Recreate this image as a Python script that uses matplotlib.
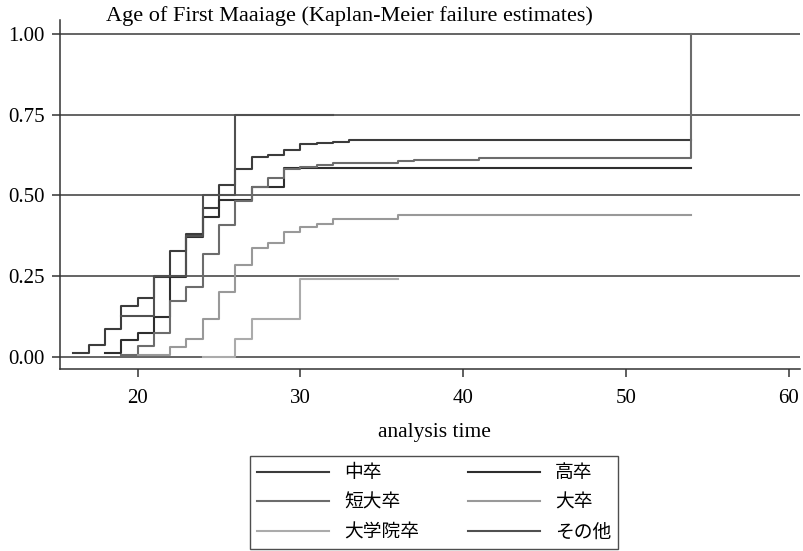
import matplotlib
matplotlib.use("Agg")
import matplotlib.pyplot as plt

# ---- data ----
labels = ["中卒", "高卒", "短大卒", "大卒", "大学院卒", "その他"]

t_chu = [16, 17, 18, 19, 20, 21, 22, 23, 24, 25, 26, 27, 28, 29, 30, 31, 32, 33, 54]
s_chu = [0.012, 0.036, 0.085, 0.158, 0.183, 0.248, 0.328, 0.380, 0.462, 0.532,
         0.582, 0.619, 0.625, 0.642, 0.658, 0.663, 0.667, 0.672, 0.672]

t_kou = [18, 19, 20, 21, 22, 23, 24, 25, 27, 29, 54]
s_kou = [0.010, 0.050, 0.074, 0.124, 0.248, 0.370, 0.434, 0.486, 0.527, 0.584, 0.584]

t_tan = [19, 20, 21, 22, 23, 24, 25, 26, 27, 28, 29, 30, 31, 32, 34, 36, 37, 41, 54]
s_tan = [0.005, 0.034, 0.074, 0.172, 0.217, 0.317, 0.408, 0.483, 0.527, 0.554,
         0.581, 0.587, 0.594, 0.600, 0.602, 0.607, 0.610, 0.617, 1.000]

t_dai = [20, 22, 23, 24, 25, 26, 27, 28, 29, 30, 31, 32, 36, 54]
s_dai = [0.005, 0.029, 0.054, 0.117, 0.200, 0.284, 0.336, 0.353, 0.387, 0.403,
         0.410, 0.428, 0.439, 0.439]

t_in = [24, 26, 27, 30, 36]
s_in = [0.000, 0.054, 0.116, 0.242, 0.242]

t_oth = [19, 21, 23, 24, 26, 32]
s_oth = [0.125, 0.250, 0.375, 0.500, 0.750, 0.750]

series_t = [t_chu, t_kou, t_tan, t_dai, t_in, t_oth]
series_s = [s_chu, s_kou, s_tan, s_dai, s_in, s_oth]
colors = ["#3c3c3c", "#2e2e2e", "#6c6c6c", "#999999", "#ababab", "#505050"]

yticks = [0.00, 0.25, 0.50, 0.75, 1.00]
xticks = [20, 30, 40, 50, 60]

SERIF = ["Liberation Serif", "DejaVu Serif"]
CJK = ["Noto Sans CJK JP", "DejaVu Sans"]

fig = plt.figure(figsize=(8.04, 5.51), dpi=100)
ax = fig.add_axes([60 / 804, 1 - 369.3 / 551, 740 / 804, 349.3 / 551])
ax.set_xlim(15.23, 60.7)
ax.set_ylim(-0.0394, 1.044)

for yv in yticks:
    ax.axhline(yv, color="#3a3a3a", lw=1.1, zorder=1)

handles = []
for t, s, c, lab in zip(series_t, series_s, colors, labels):
    h, = ax.step(t, s, where="post", color=c, lw=1.5, label=lab, zorder=3)
    handles.append(h)

for sp in ["top", "right"]:
    ax.spines[sp].set_visible(False)
for sp in ["left", "bottom"]:
    ax.spines[sp].set_color("#333333")
    ax.spines[sp].set_linewidth(1.1)

ax.set_yticks(yticks)
ax.set_yticklabels([f"{v:.2f}" for v in yticks], family=SERIF, fontsize=15)
ax.set_xticks(xticks)
ax.set_xticklabels([str(v) for v in xticks], family=SERIF, fontsize=15)
ax.tick_params(axis="both", direction="out", length=6, width=1.1, color="#333333")
ax.tick_params(axis="x", pad=8)
ax.tick_params(axis="y", pad=5)

fig.text(434 / 804, 1 - 432 / 551, "analysis time", ha="center", va="center",
         family=SERIF, fontsize=15.5)
fig.text(106 / 804, 1 - 20.7 / 551, "Age of First Maaiage (Kaplan-Meier failure estimates)",
         ha="left", va="baseline", family=SERIF, fontsize=16)

# row-major legend order: 中卒 高卒 / 短大卒 大卒 / 大学院卒 その他
order = [0, 2, 4, 1, 3, 5]
leg = fig.legend([handles[i] for i in order], [labels[i] for i in order],
                 loc="upper center", bbox_to_anchor=(434 / 804, 1 - 455.5 / 551),
                 ncol=2, prop={"family": CJK, "size": 13.5}, frameon=True,
                 fancybox=False, edgecolor="#222222", handlelength=3.85,
                 handletextpad=0.8, columnspacing=2.6, labelspacing=0.46,
                 borderpad=0.35, borderaxespad=0)
leg.get_frame().set_linewidth(1.0)

fig.savefig("out.png", dpi=100)
